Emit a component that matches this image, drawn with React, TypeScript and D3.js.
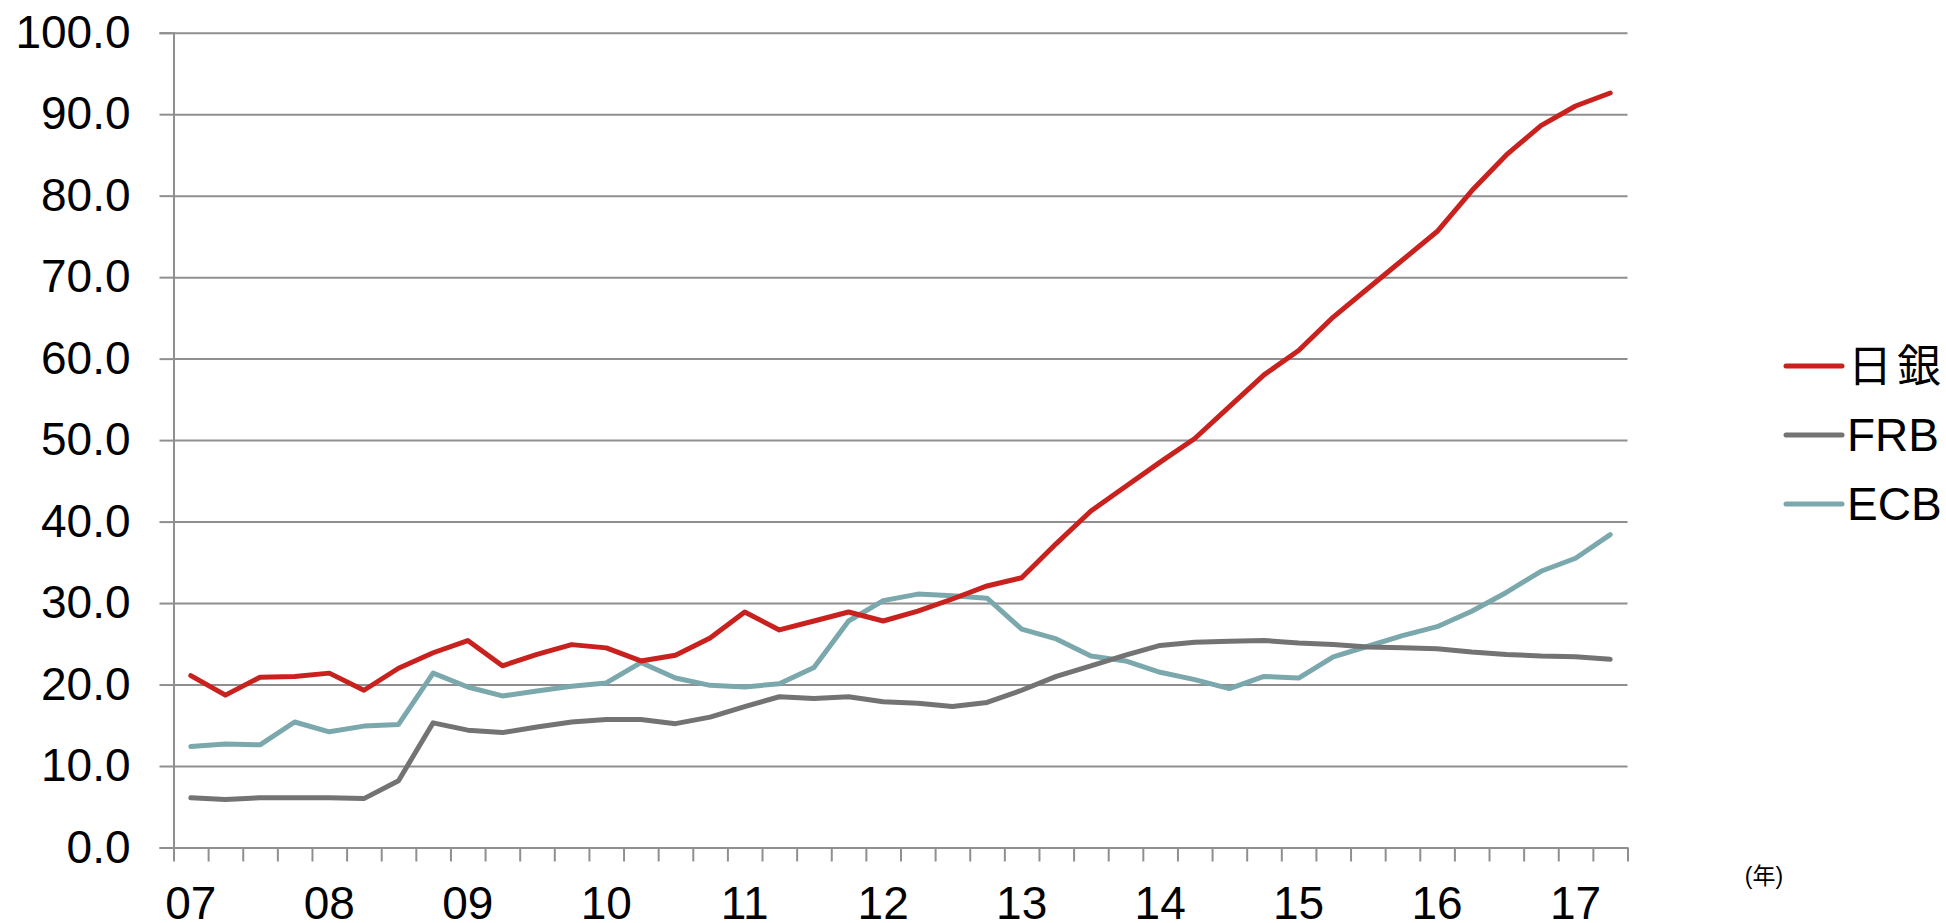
import React, { useEffect, useRef } from "react";
import * as d3 from "d3";

// chart size (matches the screenshot window)
const WIDTH = 1946;
const HEIGHT = 923;
const MARGIN = { top: 32.7, right: 318.5, bottom: 75.5, left: 173.5 };
const FONT = "'Liberation Sans', Arial, sans-serif";
const GRID_COLOR = "#8f8f8f";

// year labels, one per 4 quarters
const YEAR_LABELS = ["07", "08", "09", "10", "11", "12", "13", "14", "15", "16", "17"];
const N_QUARTERS = 42;
const QUARTERS: string[] = [];
for (let i = 0; i < N_QUARTERS; i++) {
  const yr = YEAR_LABELS[Math.floor(i / 4)];
  QUARTERS.push(i % 4 === 0 ? yr : `${yr}-${(i % 4) + 1}`);
}

const Y_TICKS = [0, 10, 20, 30, 40, 50, 60, 70, 80, 90, 100];

// series (% of GDP)
const BOJ = [
  21.1, 18.7, 20.9, 21.0, 21.4, 19.3, 22.0, 23.9, 25.4, 22.3,
  23.7, 24.9, 24.5, 22.9, 23.6, 25.7, 28.9, 26.7, 27.8, 28.9,
  27.8, 29.0, 30.5, 32.1, 33.1, 37.3, 41.3, 44.3, 47.3, 50.2,
  54.1, 58.0, 61.0, 65.1, 68.6, 72.1, 75.6, 80.6, 85.0, 88.6,
  91.0, 92.6,
];
const FRB = [
  6.1, 5.9, 6.1, 6.1, 6.1, 6.0, 8.2, 15.3, 14.4, 14.1,
  14.8, 15.4, 15.7, 15.7, 15.2, 16.0, 17.3, 18.5, 18.3, 18.5,
  17.9, 17.7, 17.3, 17.8, 19.3, 21.0, 22.3, 23.6, 24.8, 25.2,
  25.3, 25.4, 25.1, 24.9, 24.6, 24.5, 24.4, 24.0, 23.7, 23.5,
  23.4, 23.1,
];
const ECB = [
  12.4, 12.7, 12.6, 15.4, 14.2, 14.9, 15.1, 21.4, 19.7, 18.6,
  19.2, 19.8, 20.2, 22.7, 20.8, 19.9, 19.7, 20.1, 22.1, 27.8,
  30.3, 31.1, 30.9, 30.6, 26.8, 25.6, 23.5, 22.9, 21.5, 20.6,
  19.5, 21.0, 20.8, 23.4, 24.7, 26.0, 27.1, 29.0, 31.3, 33.9,
  35.5, 38.4,
];

const SERIES = [
  { name: "日銀", values: BOJ, color: "#c9211e" },
  { name: "FRB", values: FRB, color: "#737373" },
  { name: "ECB", values: ECB, color: "#7ba8ad" },
];

export default function App() {
  const ref = useRef<SVGSVGElement>(null);

  useEffect(() => {
    const svg = d3.select(ref.current);
    svg.selectAll("*").remove();

    const x = d3
      .scaleBand<string>()
      .domain(QUARTERS)
      .range([MARGIN.left, WIDTH - MARGIN.right]);
    const xEdge = d3
      .scaleLinear()
      .domain([0, N_QUARTERS])
      .range([MARGIN.left, WIDTH - MARGIN.right]);
    const y = d3
      .scaleLinear()
      .domain([0, 100])
      .range([HEIGHT - MARGIN.bottom, MARGIN.top]);

    // horizontal grid
    svg
      .append("g")
      .attr("transform", `translate(${MARGIN.left},0)`)
      .call(
        d3
          .axisLeft(y)
          .tickValues(Y_TICKS)
          .tickSize(-(WIDTH - MARGIN.right - MARGIN.left))
          .tickFormat(() => "")
      )
      .call((g) => g.select(".domain").remove())
      .call((g) => g.selectAll("line").attr("stroke", GRID_COLOR).attr("stroke-width", 2));

    // y axis
    svg
      .append("g")
      .attr("transform", `translate(${MARGIN.left},0)`)
      .call(
        d3
          .axisLeft(y)
          .tickValues(Y_TICKS)
          .tickSize(14)
          .tickPadding(29)
          .tickFormat(d3.format(".1f"))
      )
      .call((g) => g.select(".domain").attr("stroke", GRID_COLOR).attr("stroke-width", 2))
      .call((g) => g.selectAll("line").attr("stroke", GRID_COLOR).attr("stroke-width", 2))
      .call((g) =>
        g.selectAll("text").attr("font-family", FONT).attr("font-size", 46).attr("fill", "#000")
      );

    // x axis: ticks on quarter boundaries
    svg
      .append("g")
      .attr("transform", `translate(0,${y(0)})`)
      .call(
        d3
          .axisBottom(xEdge)
          .tickValues(d3.range(0, N_QUARTERS + 1))
          .tickSize(14)
          .tickSizeOuter(0)
          .tickFormat(() => "")
      )
      .call((g) => g.select(".domain").attr("stroke", GRID_COLOR).attr("stroke-width", 2))
      .call((g) => g.selectAll("line").attr("stroke", GRID_COLOR).attr("stroke-width", 2));

    // year labels
    svg
      .append("g")
      .attr("transform", `translate(0,${y(0)})`)
      .call(
        d3
          .axisBottom(x)
          .tickValues(QUARTERS.filter((_, i) => i % 4 === 0))
          .tickSize(0)
          .tickPadding(39)
      )
      .call((g) => g.select(".domain").remove())
      .call((g) =>
        g.selectAll("text").attr("font-family", FONT).attr("font-size", 46).attr("fill", "#000")
      );

    // lines
    const line = d3
      .line<number>()
      .x((_, i) => (x(QUARTERS[i]) as number) + x.bandwidth() / 2)
      .y((d) => y(d));

    SERIES.slice()
      .reverse()
      .forEach((s) => {
        svg
          .append("path")
          .attr("d", line(s.values))
          .attr("fill", "none")
          .attr("stroke", s.color)
          .attr("stroke-width", 5)
          .attr("stroke-linejoin", "round")
          .attr("stroke-linecap", "round");
      });

    // legend
    const legend = svg.append("g").attr("transform", "translate(1786,366)");
    SERIES.forEach((s, i) => {
      const gy = i * 69;
      legend
        .append("line")
        .attr("x1", 0)
        .attr("x2", 56)
        .attr("y1", gy)
        .attr("y2", gy)
        .attr("stroke", s.color)
        .attr("stroke-width", 5)
        .attr("stroke-linecap", "round");
      const cjk = i === 0;
      legend
        .append("text")
        .attr("x", cjk ? 62 : 61)
        .attr("y", gy + (cjk ? 16 : 15.5))
        .attr("font-family", cjk ? "'Noto Sans CJK JP', sans-serif" : FONT)
        .attr("font-size", cjk ? 44 : 46)
        .attr("letter-spacing", cjk ? 5 : 0)
        .attr("fill", "#000")
        .text(s.name);
    });

    // unit label
    svg
      .append("text")
      .attr("x", 1764)
      .attr("y", 876)
      .attr("text-anchor", "middle")
      .attr("dominant-baseline", "central")
      .attr("font-family", "'Liberation Sans', 'Noto Sans CJK JP', sans-serif")
      .attr("font-size", 23)
      .attr("fill", "#000")
      .text("(年)");
  }, []);

  return (
    <svg
      ref={ref}
      width={WIDTH}
      height={HEIGHT}
      style={{ position: "absolute", left: 0, top: 0, background: "#fff" }}
    />
  );
}
